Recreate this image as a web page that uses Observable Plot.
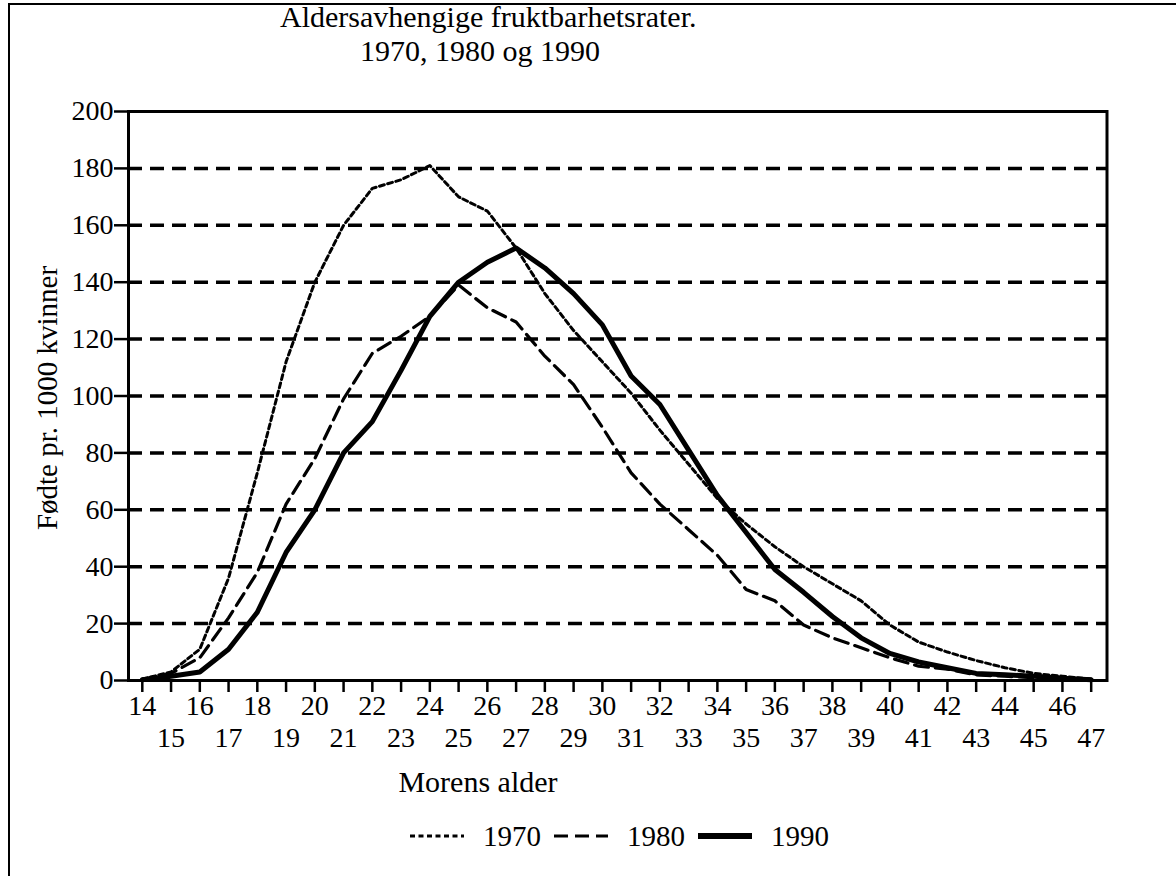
<!DOCTYPE html>
<html>
<head>
<meta charset="utf-8">
<script src="https://cdn.jsdelivr.net/npm/d3@7"></script>
<script src="https://cdn.jsdelivr.net/npm/@observablehq/plot@0.6"></script>
<style>
  body { margin: 0; background: #fff; font-family: "Liberation Serif", "Times New Roman", serif; color: #000; }
  #wrap { position: relative; width: 1176px; height: 876px; overflow: hidden; background: #fff; }
  #border { position: absolute; left: 8px; top: 3px; width: 1400px; height: 1200px; border: 2.5px solid #000; }
  .t { position: absolute; white-space: nowrap; color: #000; }
  #chart { position: absolute; left: 0; top: 0; }
  .title { left: 280px; width: 400px; text-align: center; font-size: 30px; line-height: 26px; height: 26px; }
</style>
</head>
<body>
<div id="wrap">
  <div id="border"></div>
  <div id="chart"></div>
  <div class="t title" id="title1" style="top:4px;"></div>
  <div class="t title" id="title2" style="top:38px;"></div>
  <div class="t" id="ylabel" style="left:47px; top:398px; font-size:29px; transform:translate(-50%,-50%) rotate(-90deg);"></div>
  <div class="t" id="xlabel" style="left:478px; top:782px; font-size:30px; transform:translate(-50%,-50%);"></div>
  <div class="t" id="legend" style="left:409px; top:818px; font-size:29px; display:flex; align-items:center; height:36px;"></div>
</div>
<script>
// ---- data ----
const ages = [14,15,16,17,18,19,20,21,22,23,24,25,26,27,28,29,30,31,32,33,34,35,36,37,38,39,40,41,42,43,44,45,46,47];
const rate1970 = [0.5,3,11,36,73,112,140,160,173,176,181,170,165,152,136,123,112,101,88,76,64,55,47,40,34,28,19.5,13.5,10,7,4.5,2.5,1.5,0.5];
const rate1980 = [0.3,2.5,8,22,38,62,78,99,115,121,128,139,131,126,114,104,89,73,62,53,44,32,28,19.5,15,11.5,8,5,4,2,1.5,1,0.5,0.2];
const rate1990 = [0.3,1.5,3,11,24,45,60,80,91,109,128,140,147,152,145,136,125,107,97,81,65,52,39,31,22.5,15,9.5,6.5,4.5,2.5,2,1.5,0.8,0.3];
const years = ["1970", "1980", "1990"];
const yTicks = [0,20,40,60,80,100,120,140,160,180,200];
const oddAges = ages.filter(a => a % 2 === 1);
const titleText = ["Aldersavhengige fruktbarhetsrater.", "1970, 1980 og 1990"];
const yLabel = "Fødte pr. 1000 kvinner";
const xLabel = "Morens alder";

document.getElementById("title1").textContent = titleText[0];
document.getElementById("title2").textContent = titleText[1];
document.getElementById("ylabel").textContent = yLabel;
document.getElementById("xlabel").textContent = xLabel;

const styles = {
  "1970": {strokeWidth: 3, strokeDasharray: "5,3.5"},
  "1980": {strokeWidth: 3.2, strokeDasharray: "14,7"},
  "1990": {strokeWidth: 5, strokeDasharray: null}
};
const series = {"1970": rate1970, "1980": rate1980, "1990": rate1990};
const rows = years.flatMap(y => ages.map((a, i) => ({age: a, rate: series[y][i], year: y})));

const plot = Plot.plot({
  width: 1176,
  height: 876,
  marginLeft: 128,
  marginTop: 111,
  marginRight: 69.5,
  marginBottom: 196,
  x: {domain: [13.52, 47.55]},
  y: {domain: [0, 200]},
  style: {fontFamily: '"Liberation Serif", "Times New Roman", serif', fontSize: "28px", color: "#000", background: "transparent", overflow: "visible"},
  marks: [
    Plot.ruleY(yTicks.filter(d => d > 0 && d < 200), {stroke: "#000", strokeWidth: 3.5, strokeDasharray: "14,8"}),
    ...years.map(y => Plot.line(rows.filter(d => d.year === y), {
      x: "age", y: "rate", stroke: "#000", strokeLinejoin: "round",
      strokeWidth: styles[y].strokeWidth,
      strokeDasharray: styles[y].strokeDasharray
    })),
    Plot.frame({stroke: "#000", strokeWidth: 3}),
    Plot.axisY(yTicks, {tickSize: 14, tickPadding: 1, strokeWidth: 2.5, fontSize: 28, label: null}),
    Plot.axisX(ages, {tickSize: 12, tickPadding: 3, strokeWidth: 2.5, fontSize: 28, label: null,
      tickFormat: d => d % 2 === 0 ? String(d) : ""}),
    Plot.axisX(oddAges, {tickSize: 0, tickPadding: 47, fontSize: 28, label: null})
  ]
});
document.getElementById("chart").appendChild(plot);

// legend
const leg = document.getElementById("legend");
years.forEach((y, i) => {
  const s = styles[y];
  const sw = document.createElementNS("http://www.w3.org/2000/svg", "svg");
  sw.setAttribute("width", 56); sw.setAttribute("height", 12);
  sw.style.marginLeft = i === 0 ? "0px" : "12px";
  sw.style.marginRight = "18px";
  const ln = document.createElementNS("http://www.w3.org/2000/svg", "line");
  ln.setAttribute("x1", 1); ln.setAttribute("x2", 55); ln.setAttribute("y1", 6); ln.setAttribute("y2", 6);
  ln.setAttribute("stroke", "#000");
  ln.setAttribute("stroke-width", y === "1990" ? 6 : s.strokeWidth);
  if (s.strokeDasharray) ln.setAttribute("stroke-dasharray", s.strokeDasharray);
  sw.appendChild(ln);
  leg.appendChild(sw);
  const tx = document.createElement("span");
  tx.textContent = y;
  leg.appendChild(tx);
});
</script>
</body>
</html>
